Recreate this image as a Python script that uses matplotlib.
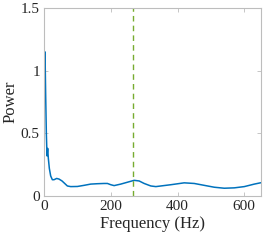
import matplotlib
matplotlib.use("Agg")
import matplotlib.pyplot as plt

# spectrum
freq_hz = [0, 2, 3, 5, 7, 9, 11, 13, 16, 20, 25, 30, 38, 45, 54, 62, 70, 80,
           100, 120, 140, 160, 180, 190, 200, 210, 230, 250, 270, 285, 300,
           320, 335, 350, 380, 420, 450, 480, 510, 540, 570, 600, 630, 650]
power = [0.9, 1.10, 1.15, 0.8, 0.5, 0.32, 0.38, 0.3, 0.22, 0.16, 0.13, 0.13,
         0.14, 0.135, 0.12, 0.10, 0.08, 0.075, 0.076, 0.085, 0.095, 0.098,
         0.10, 0.10, 0.09, 0.083, 0.095, 0.11, 0.125, 0.12, 0.10, 0.08, 0.075,
         0.08, 0.09, 0.105, 0.10, 0.085, 0.07, 0.062, 0.065, 0.075, 0.095, 0.106]
marker_freq = 267

plt.rcParams['font.family'] = ['Liberation Serif', 'DejaVu Serif']

fig = plt.figure(figsize=(2.69, 2.41), dpi=100)
ax = fig.add_axes([44 / 269, 1 - 196 / 241, 217 / 269, 188 / 241])

ax.plot(freq_hz, power, color='#0072BD', linewidth=1.1)
ax.axvline(marker_freq, color='#77AC30', linestyle='--', linewidth=1.0, dashes=(4, 3))

ax.set_xlim(0, 650)
ax.set_ylim(0, 1.5)
ax.set_xticks([0, 200, 400, 600])
ax.set_yticks([0, 0.5, 1, 1.5])
ax.set_yticklabels(['0', '0.5', '1', '1.5'])
ax.set_xlabel('Frequency (Hz)', fontsize=12, color='#262626', labelpad=2)
ax.set_ylabel('Power', fontsize=12, color='#262626', labelpad=2)

for s in ax.spines.values():
    s.set_color('#bdbdbd')
    s.set_linewidth(0.8)
ax.tick_params(direction='in', length=3, width=0.6, color='#bdbdbd',
               labelcolor='#262626', labelsize=11, top=True, right=True, pad=3)

fig.savefig('out.png', dpi=100)
plt.close(fig)
